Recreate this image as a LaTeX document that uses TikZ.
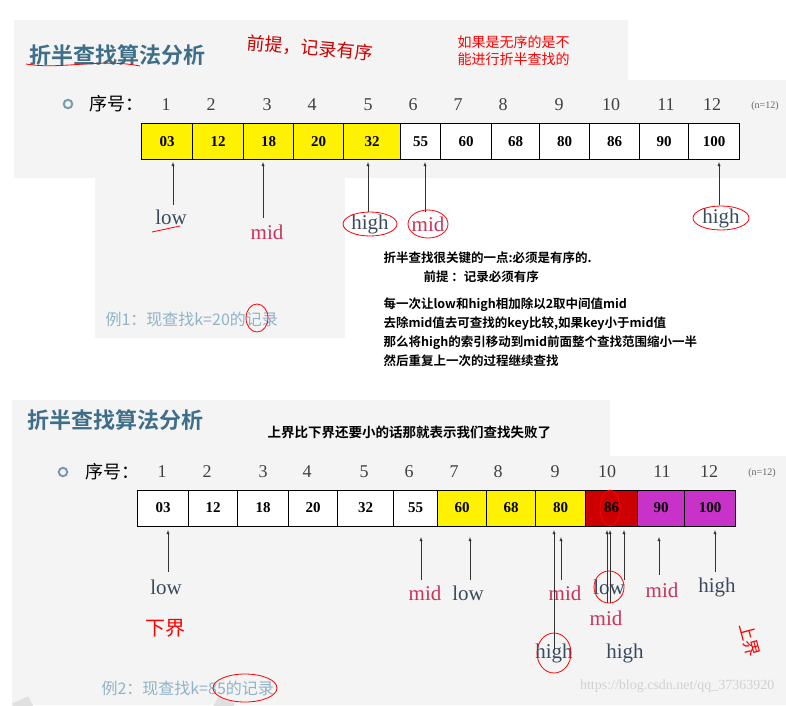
\documentclass[tikz,border=0pt]{standalone}
\usepackage{fontspec}
\setmainfont{Liberation Serif}
\newfontfamily\cjk{Noto Sans CJK SC}
\newfontfamily\cjkb{Noto Sans CJK SC Bold}
\usetikzlibrary{positioning}
\definecolor{slidebg}{HTML}{F4F4F4}
\definecolor{titleblue}{HTML}{3F6F88}
\definecolor{lblred}{HTML}{C8345A}
\definecolor{lblgray}{HTML}{3A4A5E}
\definecolor{exblue}{HTML}{8FB3C9}
\definecolor{hired}{HTML}{CC0000}
\definecolor{hipink}{HTML}{C832C8}
\tikzset{
  cell/.style = {draw, line width=1pt, minimum height=36pt, inner sep=0pt, font=\fontsize{15}{15}\selectfont\bfseries},
  idx/.style = {font=\fontsize{18}{18}\selectfont, text=black!75},
  lbl/.style = {font=\fontsize{21}{21}\selectfont, text=lblgray},
  rlbl/.style = {font=\fontsize{21}{21}\selectfont, text=lblred},
  pt/.style = {-latex, black!80, thin},
  ring/.style = {draw=red, thick},
  note/.style = {font=\cjkb\fontsize{12.5}{19}\selectfont, align=left, anchor=west},
  ttl/.style = {font=\cjkb\fontsize{22}{22}\selectfont, text=titleblue, anchor=west}
}
\begin{document}
\begin{tikzpicture}[x=1pt, y=-1pt]
\useasboundingbox (0,0) rectangle (786,705);
\fill[white] (0,0) rectangle (786,705);
% slide backgrounds
\fill[slidebg] (14,20) rectangle (628,178);
\fill[slidebg] (628,80) rectangle (786,178);
\fill[slidebg] (95,178) rectangle (345,338);
\fill[slidebg] (12,400) rectangle (610,705);
\fill[slidebg] (610,456) rectangle (786,705);
\begin{scope}
  \clip (95,178) rectangle (345,338);
  \draw[black!10, line width=18pt] (120,345) arc (180:80:120);
\end{scope}
\draw[black!12, line width=18pt] (20,700) arc (160:20:110 and 90);

% ---- first slide
\node[ttl] (t1) at (26,55) {折半查找算法分析};
\draw[red, thick] (26,64) .. controls (60,70) and (100,58) .. (140,66);
\node[font=\cjk\fontsize{18}{18}\selectfont, text=red!80!black, rotate=-5] (pre) at (310,48) {前提，记录有序};
\node[font=\cjk\fontsize{14}{17}\selectfont, text=red, align=left, anchor=west] (warn) at (454,51) {如果是无序的是不\\能进行折半查找的};
\node[circle, draw=titleblue!70, line width=2pt, inner sep=3pt] (dot1) at (68,104) {};
\node[font=\cjk\fontsize{18}{18}\selectfont, anchor=west] (xh1) at (86,104) {序号：};
\foreach \i/\x in {1/166,2/211,3/267,4/312,5/368,6/413,7/458,8/503,9/559,10/611,11/666,12/712}
  \node[idx] (a\i) at (\x,105) {\i};
\node[font=\fontsize{10}{10}\selectfont, text=black!60] (n1) at (765,106) {(n=12)};
\foreach \i/\l/\r/\v/\c in {1/141/192/03/yellow,2/192/243/12/yellow,3/243/293/18/yellow,4/293/343/20/yellow,5/343/400/32/yellow,6/400/440/55/white,7/440/491/60/white,8/491/539/68/white,9/539/589/80/white,10/589/639/86/white,11/639/688/90/white,12/688/739/100/white}
  \node[cell, fill=\c, minimum width=\r pt-\l pt, anchor=west] (c\i) at (\l,141.5) {\v};
\node[lbl] (lowA) at (171,217) {low};
\node[rlbl] (midA) at (267,232) {mid};
\node[lbl] (highA) at (370,224) {high};
\node[rlbl] (midB) at (428,224) {mid};
\node[lbl] (highB) at (721,218) {high};
\foreach \x/\y in {173/205,263/218,368/212,425/212,719/205}
  \draw[pt] (\x,\y) -- (\x,162);
\draw[ring] (highA) ellipse (27 and 12);
\draw[ring] (midB) ellipse (20 and 14);
\draw[ring] (highB) ellipse (28 and 12);
\draw[red, thick] (152,232) -- (180,226);
\node[note] (key) at (380,267) {折半查找很关键的一点:必须是有序的.\\\hspace{3.2em}前提 ：记录必须有序};
\node[note] (step) at (380,332) {每一次让low和high相加除以2取中间值mid\\去除mid值去可查找的key比较,如果key小于mid值\\那么将high的索引移动到mid前面整个查找范围缩小一半\\然后重复上一次的过程继续查找};
\node[font=\cjk\fontsize{16}{16}\selectfont, text=exblue, anchor=west] (ex1) at (102,319) {例1：现查找k=20的记录};
\draw[ring] (257,318) ellipse (11 and 14);

% ---- second slide
\node[ttl] (t2) at (24,420) {折半查找算法分析};
\node[note, font=\cjkb\fontsize{13.5}{16}\selectfont] (fail) at (264,432) {上界比下界还要小的话那就表示我们查找失败了};
\node[circle, draw=titleblue!70, line width=2pt, inner sep=3pt] (dot2) at (63,472) {};
\node[font=\cjk\fontsize{18}{18}\selectfont, anchor=west] (xh2) at (82,472) {序号：};
\foreach \i/\x in {1/162,2/207,3/263,4/307,5/364,6/409,7/454,8/498,9/555,10/607,11/662,12/709}
  \node[idx] (b\i) at (\x,472) {\i};
\node[font=\fontsize{10}{10}\selectfont, text=black!60] (n2) at (762,473) {(n=12)};
\foreach \i/\l/\r/\v/\c in {1/137/188/03/white,2/188/237/12/white,3/237/288/18/white,4/288/337/20/white,5/337/393/32/white,6/393/437/55/white,7/437/486/60/yellow,8/486/535/68/yellow,9/535/585/80/yellow,10/585/637/86/hired,11/637/684/90/hipink,12/684/735/100/hipink}
  \node[cell, fill=\c, minimum width=\r pt-\l pt, anchor=west] (d\i) at (\l,508) {\v};
\node[lbl] (lowC) at (166,587) {low};
\node[rlbl] (midC) at (425,593) {mid};
\node[lbl] (lowD) at (468,593) {low};
\node[rlbl] (midD) at (565,593) {mid};
\node[lbl] (lowE) at (609,587) {low};
\node[rlbl] (midE) at (662,590) {mid};
\node[lbl] (highC) at (717,587) {high};
\node[rlbl] (midF) at (606,618) {mid};
\node[lbl] (highD) at (554,653) {high};
\node[lbl] (highE) at (625,653) {high};
\foreach \x/\y/\t in {168/572/530,421/580/537,470/580/537,554/650/530,561/580/537,607/603/530,610/603/530,624/580/530,659/575/537,715/572/530}
  \draw[pt] (\x,\y) -- (\x,\t);
\draw[ring] (lowE) ellipse (15 and 16);
\draw[ring] (highD) ellipse (17 and 20);
\draw[ring] (610,508) ellipse (10 and 18);
\node[font=\cjk\fontsize{20}{20}\selectfont, text=red] (xj) at (165,628) {下界};
\node[font=\cjk\fontsize{17}{17}\selectfont, text=red, rotate=-75] (sj) at (750,640) {上界};
\node[font=\cjk\fontsize{16}{16}\selectfont, text=exblue, anchor=west] (ex2) at (98,688) {例2：现查找k=85的记录};
\draw[ring] (245,688) ellipse (32 and 14);
\node[font=\fontsize{14}{14}\selectfont, text=black!18, anchor=east] (wm) at (778,686) {https://blog.csdn.net/qq\_37363920};
\end{tikzpicture}
\end{document}
